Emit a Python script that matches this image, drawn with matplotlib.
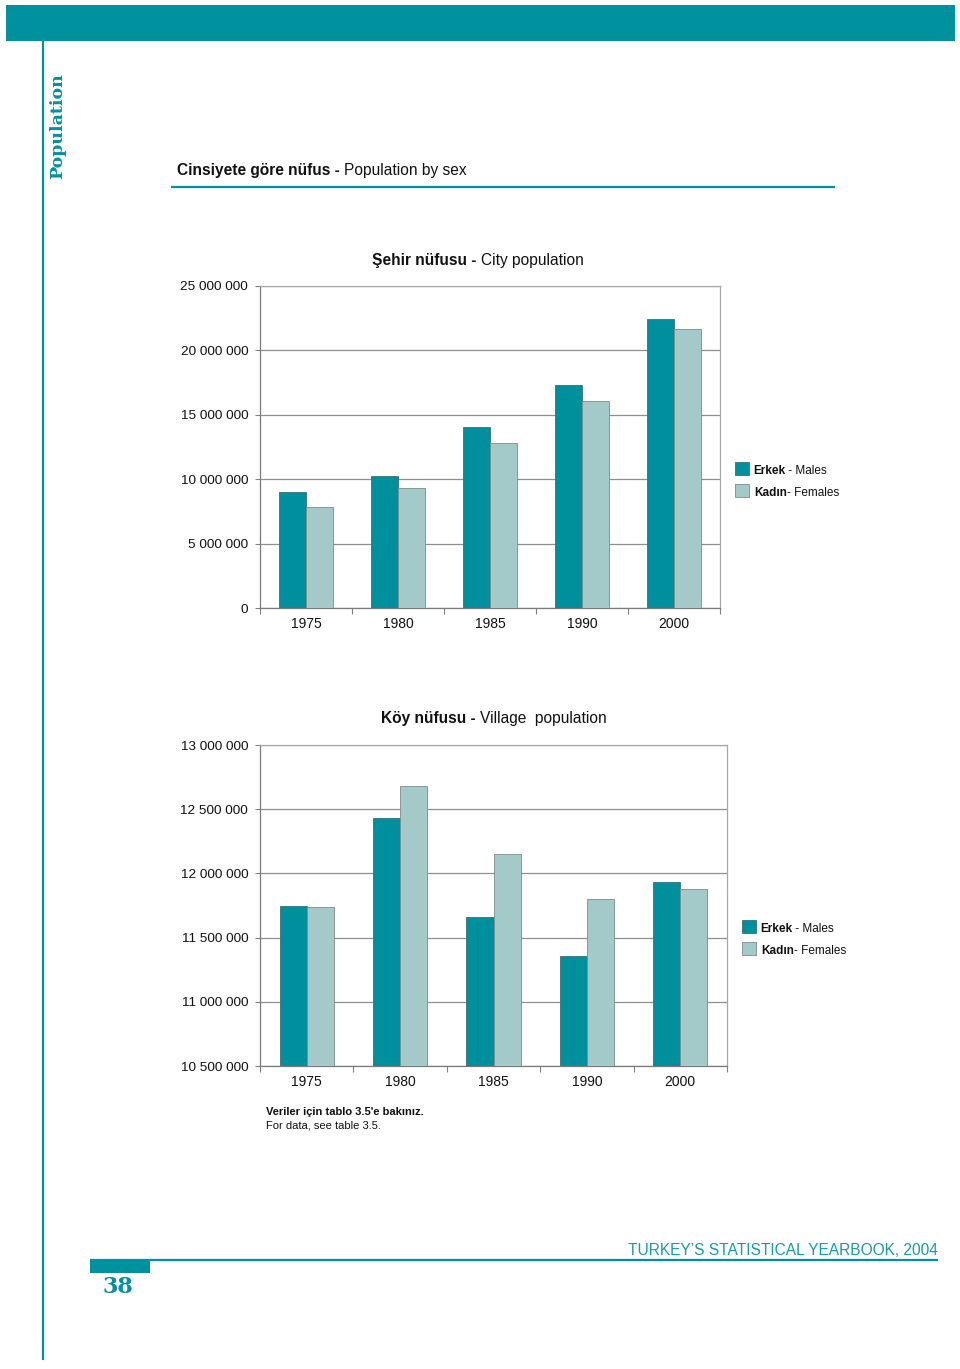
import matplotlib
matplotlib.use('Agg')
import matplotlib.pyplot as plt
import numpy as np
from matplotlib.patches import Rectangle
from matplotlib.ticker import FuncFormatter

# ---- data ----
years = ['1975', '1980', '1985', '1990', '2000']
city_males = [9.03e6, 10.25e6, 14.05e6, 17.29e6, 22.44e6]
city_females = [7.82e6, 9.29e6, 12.81e6, 16.10e6, 21.64e6]
village_males = [11.75e6, 12.43e6, 11.66e6, 11.36e6, 11.93e6]
village_females = [11.74e6, 12.68e6, 12.15e6, 11.80e6, 11.88e6]
city_ticks = [0, 5e6, 10e6, 15e6, 20e6, 25e6]
village_ticks = [10.5e6, 11e6, 11.5e6, 12e6, 12.5e6, 13e6]

TEAL = '#008F9C'
LIGHT = '#A3CAC8'
HEAD = '#00919E'
SANS = ['Liberation Sans', 'DejaVu Sans']

plt.rcParams['font.family'] = SANS

W, H = 960, 1369
fig = plt.figure(figsize=(W / 100, H / 100), dpi=100)
bg = fig.add_axes([0, 0, 1, 1], zorder=0)
bg.set_xlim(0, W)
bg.set_ylim(H, 0)
bg.axis('off')

# header decorations
bg.add_patch(Rectangle((6, 5), 949, 36, color=HEAD, lw=0))
bg.plot([43, 43], [41, 1360], color=HEAD, lw=1.6, solid_capstyle='butt')
bg.text(58, 126, 'Population', rotation=90, ha='center', va='center',
        family=['DejaVu Serif'], weight='bold', fontsize=12.5, color=HEAD)


def mixed(x, y, parts, size, color='#111111', ha='left'):
    t = bg.text(x, y, parts[0][0], weight=parts[0][1], fontsize=size,
                color=color, ha=ha, va='baseline')
    for s, wgt in parts[1:]:
        t = bg.annotate(s, xy=(1, 0), xycoords=t, va='bottom', ha='left',
                        weight=wgt, fontsize=size, color=color)
    return t


mixed(177, 175, [('Cinsiyete göre nüfus - ', 'bold'), ('Population by sex', 'normal')], 11.2)
bg.plot([171, 835], [187, 187], color=HEAD, lw=1.6, solid_capstyle='butt')

mixed(372, 265, [('Şehir nüfusu - ', 'bold'), ('City population', 'normal')], 11.2)
mixed(381, 723, [('Köy nüfusu - ', 'bold'), ('Village  population', 'normal')], 11.2)


def legend(x, y):
    bg.add_patch(Rectangle((x, y), 14, 13, facecolor=TEAL, edgecolor='#3d6f75', lw=0.6))
    bg.add_patch(Rectangle((x, y + 22), 14, 13, facecolor=LIGHT, edgecolor='#7f8b8b', lw=0.6))
    mixed(x + 18, y + 12, [('Erkek', 'bold'), (' - Males', 'normal')], 8.5)
    mixed(x + 19, y + 34, [('Kadın', 'bold'), ('- Females', 'normal')], 8.5)


legend(735, 462)
legend(742, 920)


def chart(px_rect, males, females, ticks):
    l, t, r, b = px_rect
    ax = fig.add_axes([l / W, 1 - b / H, (r - l) / W, (b - t) / H], zorder=1)
    ax.set_facecolor('none')
    x = np.arange(len(years))
    w = 0.29
    ax.bar(x - w / 2, males, w, color=TEAL, edgecolor='#3d6f75', lw=0.6, zorder=3)
    ax.bar(x + w / 2, females, w, color=LIGHT, edgecolor='#7f8b8b', lw=0.6, zorder=3)
    ax.set_xlim(-0.5, len(years) - 0.5)
    ax.set_ylim(ticks[0], ticks[-1])
    ax.set_yticks(ticks)
    ax.yaxis.set_major_formatter(FuncFormatter(lambda v, p: f"{v:,.0f}".replace(',', ' ')))
    ax.yaxis.grid(True, color='#8f8f8f', lw=0.9)
    ax.set_axisbelow(True)
    ax.set_xticks(x)
    ax.set_xticklabels(years)
    ax.set_xticks(np.arange(-0.5, len(years), 1), minor=True)
    ax.tick_params(axis='x', which='major', length=0, pad=6.5, labelsize=10, labelcolor='#111111')
    ax.tick_params(axis='x', which='minor', length=4, color='#808080', width=0.8)
    ax.tick_params(axis='y', length=3.5, pad=5, labelsize=9.7, color='#808080', width=0.8,
                   labelcolor='#111111')
    for side in ['left', 'bottom']:
        ax.spines[side].set_color('#7a7a7a')
        ax.spines[side].set_linewidth(0.9)
    for side in ['top', 'right']:
        ax.spines[side].set_color('#a8a8a8')
        ax.spines[side].set_linewidth(0.9)
    return ax


chart((260, 286, 720, 608), city_males, city_females, city_ticks)
chart((260, 745, 727, 1066), village_males, village_females, village_ticks)

# footnote
bg.text(266, 1115, 'Veriler için tablo 3.5\'e bakınız.', weight='bold', fontsize=8,
        color='#111111', va='baseline')
bg.text(266, 1128, 'For data, see table 3.5.', fontsize=8, color='#111111', va='baseline')

# footer
bg.plot([90, 938], [1260, 1260], color=HEAD, lw=1.6, solid_capstyle='butt')
bg.add_patch(Rectangle((90, 1260), 60, 13, color=HEAD, lw=0))
bg.text(938, 1255, 'TURKEY\u2019S STATISTICAL YEARBOOK, 2004', ha='right', va='baseline',
        fontsize=11.2, color='#1A9AA5')
bg.text(103, 1293, '38', ha='left', va='baseline', family=['DejaVu Serif'],
        weight='bold', fontsize=16, color=HEAD)

fig.savefig('out.png', dpi=100, facecolor='white')
